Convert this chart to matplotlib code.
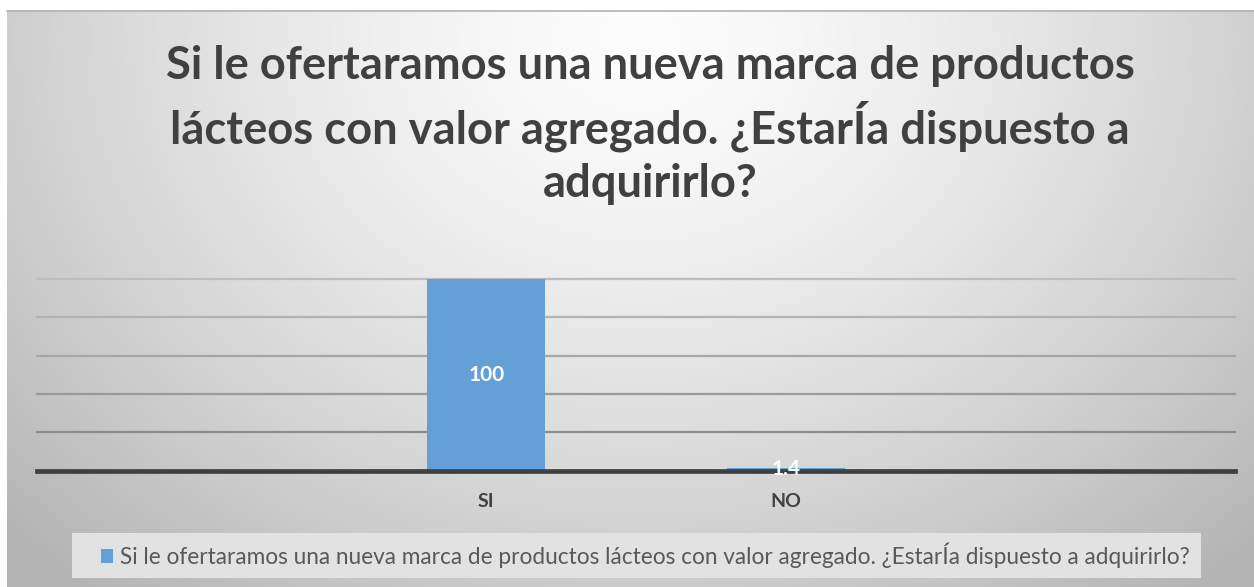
import numpy as np
import matplotlib
matplotlib.use("Agg")
import matplotlib.pyplot as plt
from matplotlib.patches import Rectangle

# ---- data ----
title = ("Si le ofertaramos una nueva marca de productos\n"
         "lácteos con valor agregado. ¿EstarÍa dispuesto a\n"
         "adquirirlo?")
series_name = ("Si le ofertaramos una nueva marca de productos lácteos con valor "
               "agregado. ¿EstarÍa dispuesto a adquirirlo?")
categories = ["SI", "NO"]
values = [100, 1.4]
value_labels = ["100", "1.4"]
y_ticks = [0, 20, 40, 60, 80, 100]

W, H = 1254, 587
fig = plt.figure(figsize=(W / 100, H / 100), dpi=100)
fig.patch.set_facecolor("white")

# ---- radial gray background of the chart area ----
bg = fig.add_axes([0, 0, 1, 1], zorder=-10)
bg.set_axis_off()
yy, xx = np.mgrid[0:H, 0:W]
cx, cy, rx, ry = 640.0, 40.0, 760.0, 620.0
t = np.sqrt(((xx - cx) / rx) ** 2 + ((yy - cy) / ry) ** 2)
t = np.clip(t, 0, 1.15)
shade = 253 - 60 * (t ** 1.4)
img = np.clip(shade, 0, 255) / 255.0
img[:10, :] = 1.0
img[:, :7] = 1.0
rgb = np.dstack([img, img, img])
bg.imshow(rgb, extent=[0, W, H, 0], aspect="auto", interpolation="bilinear")
bg.set_xlim(0, W)
bg.set_ylim(H, 0)
bg.plot([7, W], [10.5, 10.5], color="#b4b4b4", lw=1.2)

# ---- plot area ----
ax = fig.add_axes([37 / W, 116.5 / H, (1235 - 37) / W, (470.5 - 279) / H])
ax.set_facecolor("none")
positions = [1, 2]
ax.set_xlim(-0.5, 3.5)
ax.set_ylim(0, 100)

grid_colors = ["#8c8c8c", "#9a9a9a", "#a6a6a6", "#b2b2b2", "#bdbdbd"]
for yv, gc in zip(y_ticks[1:], grid_colors):
    ax.axhline(yv, color=gc, lw=1.6, zorder=1, clip_on=False)

bars = ax.bar(positions, values, width=0.395, color="#659fd8", zorder=2,
              label=series_name)
ax.axhline(0, color="#404040", lw=3.4, zorder=3, clip_on=False)

for x, v, lab in zip(positions, values, value_labels):
    ax.text(x, v / 2, lab, ha="center", va="center", color="white",
            fontsize=15, fontweight="bold", family="Lato", zorder=4)

for s in ax.spines.values():
    s.set_visible(False)
ax.set_yticks([])
ax.set_xticks(positions)
ax.set_xticklabels(categories, fontsize=14, fontweight="bold",
                   color="#404040", family="Lato")
ax.tick_params(axis="x", length=0, pad=16)

# ---- title ----
fig.text(650 / W, 1 - 125 / H, title, ha="center", va="center",
         fontsize=32.7, fontweight="bold", color="#404040", family="Lato",
         linespacing=1.31)

# ---- legend ----
fig.patches.append(Rectangle((72 / W, 1 - 578 / H), (1201 - 72) / W, 45 / H,
                             transform=fig.transFigure, facecolor="#e2e2e2",
                             edgecolor="none", zorder=0))
leg = fig.legend(handles=[bars], labels=[series_name], loc="center",
                 bbox_to_anchor=(645 / W, 1 - 555 / H), frameon=False,
                 prop={"family": "Lato", "size": 16.3},
                 handlelength=0.55, handleheight=0.55, handletextpad=0.3)
for txt in leg.get_texts():
    txt.set_color("#595959")

fig.savefig("out.png", dpi=100)
